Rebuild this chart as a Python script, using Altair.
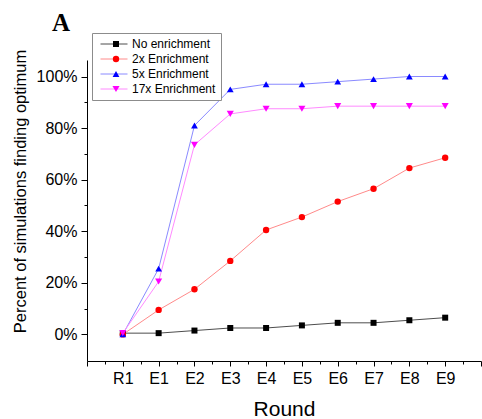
import altair as alt
import pandas as pd

# Rounds of selection: one random round followed by nine enriched rounds
rounds = ["R1", "E1", "E2", "E3", "E4", "E5", "E6", "E7", "E8", "E9"]
series = ["No enrichment", "2x Enrichment", "5x Enrichment", "17x Enrichment"]

# Percent of simulations that found the optimum, per round
no_enrichment = [0.5, 0.5, 1.5, 2.5, 2.5, 3.5, 4.5, 4.5, 5.5, 6.5]
enrich_2x = [0, 9.5, 17.5, 28.5, 40.5, 45.5, 51.5, 56.5, 64.5, 68.5]
enrich_5x = [0, 25.5, 81, 95, 97, 97, 98, 99, 100, 100]
enrich_17x = [0.5, 20.5, 73.5, 85.5, 87.5, 87.5, 88.5, 88.5, 88.5, 88.5]

marker_colors = ["#000000", "#ff0000", "#0000ff", "#ff00ff"]
line_colors = ["#4d4d4d", "#ff8a8a", "#8a8aff", "#ff8aff"]
shapes = ["square", "circle", "triangle-up", "triangle-down"]
marker_sizes = [36, 50, 64, 64]

rows = []
for name, vals in zip(series, [no_enrichment, enrich_2x, enrich_5x, enrich_17x]):
    for i, (lab, v) in enumerate(zip(rounds, vals)):
        rows.append({"series": name, "line_series": name, "idx": i, "round": lab, "value": v})
df = pd.DataFrame(rows)

round_array = "[" + ",".join(f"'{r}'" for r in rounds) + "]"
x_label_expr = f"datum.value >= 0 && datum.value <= 9 ? {round_array}[datum.value] : ''"

x_scale = alt.Scale(domain=[-1, 10], nice=False, zero=False)
y_scale = alt.Scale(domain=[-10.3, 106.4], nice=False, zero=False)

x_main = alt.X(
    "idx:Q",
    scale=x_scale,
    axis=alt.Axis(
        values=list(range(-1, 11)),
        labelExpr=x_label_expr,
        tickSize=5,
        labelPadding=4,
        title="Round",
        titleFontSize=21,
        titleY=54,
        titleBaseline="alphabetic",
        orient="bottom",
    ),
)
y_main = alt.Y(
    "value:Q",
    scale=y_scale,
    axis=alt.Axis(
        values=[0, 20, 40, 60, 80, 100],
        labelExpr="datum.value + '%'",
        tickSize=6,
        labelPadding=4,
        title="Percent of simulations finding optimum",
        titleFontSize=16.5,
        titleX=-62,
        titleY=131,
        titleBaseline="alphabetic",
        orient="left",
    ),
)

# Two stacked legends share one box: line segments with labels underneath,
# the markers drawn on top of them.
common_legend = dict(
    title=None,
    orient="none",
    legendX=5,
    legendY=-27,
    padding=5,
    labelFont="Liberation Sans",
    labelFontSize=12,
    labelColor="black",
    labelOffset=4,
    rowPadding=3,
    clipHeight=12,
)
line_legend = alt.Legend(
    fillColor="white",
    strokeColor="#8c8c8c",
    symbolType="stroke",
    symbolSize=729,
    symbolStrokeWidth=1,
    symbolOffset=3,
    zindex=0,
    **common_legend,
)
marker_legend = alt.Legend(
    symbolSize=40,
    symbolOffset=13,
    symbolStrokeWidth=0,
    labelExpr="' '",
    zindex=1,
    **common_legend,
)

base = alt.Chart(df)

lines = base.mark_line(strokeWidth=1).encode(
    x=x_main,
    y=y_main,
    stroke=alt.Stroke("line_series:N", sort=series, scale=alt.Scale(range=line_colors), legend=line_legend),
)

points = base.mark_point(filled=True, opacity=1).encode(
    x=alt.X("idx:Q", scale=x_scale, axis=None),
    y=alt.Y("value:Q", scale=y_scale, axis=None),
    color=alt.Color("series:N", scale=alt.Scale(domain=series, range=marker_colors), legend=marker_legend),
    shape=alt.Shape("series:N", scale=alt.Scale(domain=series, range=shapes), legend=marker_legend),
    size=alt.Size("series:N", scale=alt.Scale(domain=series, range=marker_sizes), legend=None),
)

# Minor ticks on both axes
minor = base.mark_point(opacity=0).encode(
    x=alt.X(
        "idx:Q",
        scale=x_scale,
        axis=alt.Axis(values=[i + 0.5 for i in range(-1, 10)], labels=False, domain=False,
                      tickSize=3, title=None, orient="bottom"),
    ),
    y=alt.Y(
        "value:Q",
        scale=y_scale,
        axis=alt.Axis(values=[10, 30, 50, 70, 90], labels=False, domain=False,
                      tickSize=3, title=None, orient="left"),
    ),
)

chart = (
    alt.layer(lines, points, minor)
    .resolve_axis(x="independent", y="independent")
    .properties(
        width=394,
        height=301,
        autosize=alt.AutoSizeParams(type="none"),
        padding={"left": 87, "top": 60, "right": 1, "bottom": 58},
        title=alt.TitleParams(
            "A",
            font="Liberation Serif",
            fontSize=25,
            fontWeight="bold",
            color="black",
            anchor="start",
            frame="group",
            dx=-35,
            dy=7,
        ),
    )
    .configure_view(stroke=None)
    .configure_axis(
        grid=False,
        domainColor="black",
        tickColor="black",
        labelFont="Liberation Sans",
        labelFontSize=16,
        labelColor="black",
        titleFont="Liberation Sans",
        titleFontWeight="normal",
        titleColor="black",
    )
)

chart.save("out.html", embed_options={"renderer": "svg", "actions": False})
